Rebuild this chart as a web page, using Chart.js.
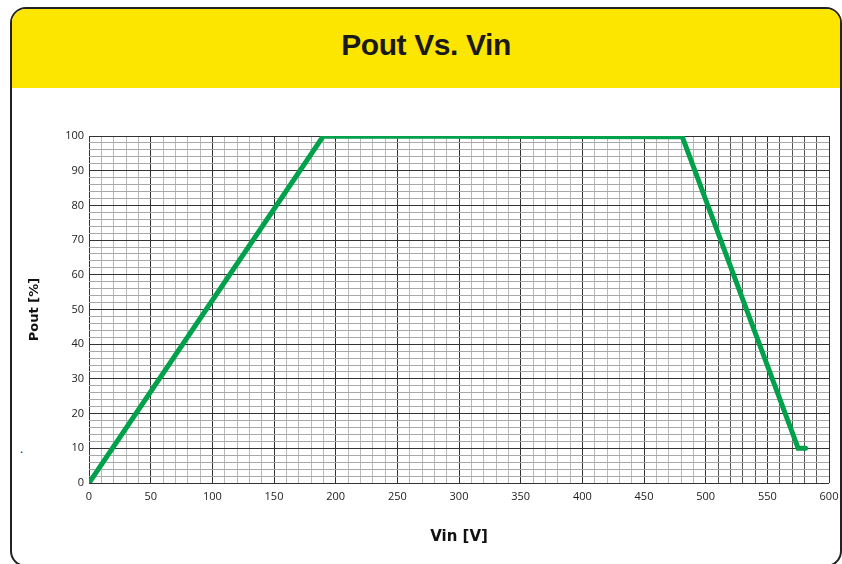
<!DOCTYPE html>
<html>
<head>
<meta charset="utf-8">
<script src="https://cdn.jsdelivr.net/npm/chart.js@4"></script>
<style>
  html, body { margin: 0; padding: 0; background: #fff; }
  body { width: 842px; height: 564px; position: relative; overflow: hidden; }
  .frame {
    position: absolute; left: 10px; top: 7px; width: 832px; height: 560px;
    box-sizing: border-box; border: 2px solid #222; border-radius: 16px;
    overflow: hidden; background: #fff;
  }
  .band {
    position: absolute; left: 0; top: 0; right: 0; height: 79px;
    background: #fce600;
  }
  .band h1 {
    margin: 0; position: absolute; left: 0; right: 0; top: 19px;
    text-align: center; font: bold 30px "Liberation Sans", Arial, sans-serif;
    color: #1a1a1a; letter-spacing: -0.4px;
  }
  .dot { position: absolute; left: 20px; top: 440px; font: 12px "Open Sans"; color: #222; }
  canvas { position: absolute; left: 0; top: 0; }
</style>
</head>
<body>
<div class="frame"><div class="band"><h1>Pout Vs. Vin</h1></div></div>
<div class="dot">.</div>
<canvas id="chart" width="842" height="564"></canvas>
<script>
// Vin [V] against Pout [%]
const vin = [0, 190, 481, 575, 581];
const pout = [0, 100, 99.8, 10, 10];

const xMin = 0, xMax = 600, xStep = 10, xLabelEvery = 50;
const yMin = 0, yMax = 100, yStep = 2, yLabelEvery = 10;

const tickFont = { family: 'Open Sans', size: 11 };

const ctx = document.getElementById('chart').getContext('2d');

new Chart(ctx, {
  type: 'line',
  data: {
    datasets: [{
      data: vin.map((v, i) => ({ x: v, y: pout[i] })),
      borderColor: '#00a14b',
      borderWidth: 5,
      pointRadius: 0,
      tension: 0,
      borderCapStyle: 'round',
      borderJoinStyle: 'miter'
    }]
  },
  options: {
    responsive: false,
    animation: false,
    events: [],
    layout: { padding: { left: 23, top: 136, right: 13, bottom: 14 } },
    plugins: { legend: { display: false }, tooltip: { enabled: false } },
    scales: {
      x: {
        type: 'linear',
        min: xMin, max: xMax,
        // fixed axis box; the end labels may hang into the outer padding
        afterFit: s => { s.height = 67; s.paddingLeft = 0; s.paddingRight = 0; },
        ticks: {
          stepSize: xStep, autoSkip: false, maxRotation: 0, padding: 7,
          color: '#222', font: tickFont,
          callback: v => (v % xLabelEvery === 0 ? v : '')
        },
        grid: {
          drawTicks: false,
          color: c => {
            const v = c.tick.value;
            if (v % xLabelEvery === 0) return '#333';
            return v > 500 ? '#555' : '#b8b8b8';
          },
          lineWidth: 1
        },
        border: { display: false },
        title: {
          display: true, text: 'Vin [V]', color: '#111',
          font: { family: 'DejaVu Sans', size: 15, weight: 'bold' }
        }
      },
      y: {
        min: yMin, max: yMax,
        afterFit: s => { s.width = 66; s.paddingTop = 0; s.paddingBottom = 0; },
        ticks: {
          stepSize: yStep, autoSkip: false, padding: 5,
          color: '#222', font: tickFont,
          callback: v => (v % yLabelEvery === 0 ? v : '')
        },
        grid: {
          drawTicks: false,
          color: c => (c.tick.value % yLabelEvery === 0 ? '#333' : '#a8a8a8'),
          lineWidth: 1
        },
        border: { display: false },
        title: {
          display: true, text: 'Pout [%]', color: '#111',
          font: { family: 'DejaVu Sans', size: 13, weight: 'bold' }
        }
      }
    }
  }
});
</script>
</body>
</html>
